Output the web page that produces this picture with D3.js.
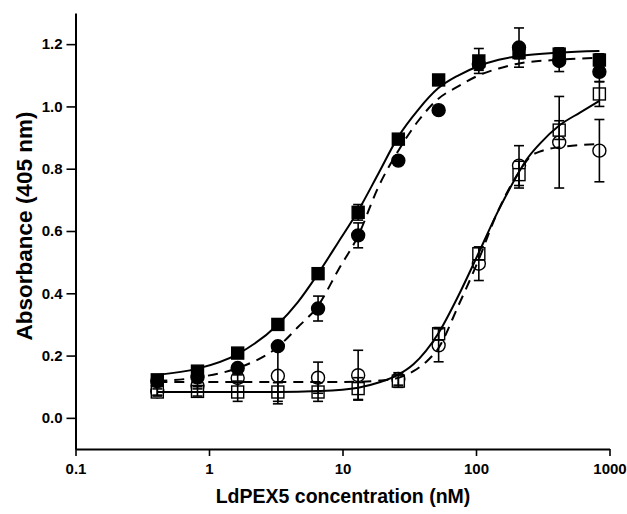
<!DOCTYPE html>
<html>
<head>
<meta charset="utf-8">
<script src="https://cdn.jsdelivr.net/npm/d3@7"></script>
<style>
  body { margin: 0; background: #fff; }
  svg text { font-family: 'Liberation Sans', Arial, sans-serif; font-weight: bold; fill: #000; }
</style>
</head>
<body>
<svg id="chart" width="627" height="514"></svg>
<script>
'use strict';

// LdPEX5 concentrations (nM), two-fold dilution series
var conc = [0.41, 0.82, 1.64, 3.28, 6.56, 13.1, 26.2, 52.5, 105, 210, 420, 840];

// filled squares (solid fit)
var filledSq = [0.122, 0.150, 0.208, 0.300, 0.463, 0.660, 0.895, 1.085, 1.146, 1.173, 1.168, 1.149];
var filledSqErr = [0.005, 0.005, 0.005, 0.01, 0.01, 0.025, 0.01, 0.01, 0.04, 0.02, 0.02, 0.02];
// filled circles (dashed fit)
var filledCi = [0.118, 0.130, 0.160, 0.230, 0.351, 0.586, 0.826, 0.988, 1.136, 1.189, 1.146, 1.111];
var filledCiErr = [0.005, 0.01, 0.01, 0.01, 0.04, 0.04, 0.01, 0.01, 0.02, 0.063, 0.034, 0.032];
// open squares (solid fit)
var openSq = [0.083, 0.085, 0.083, 0.083, 0.083, 0.094, 0.118, 0.270, 0.527, 0.781, 0.924, 1.040];
var openSqErr = [0.01, 0.015, 0.03, 0.03, 0.03, 0.035, 0.02, 0.02, 0.02, 0.043, 0.03, 0.04];
// open circles (dashed fit)
var openCi = [0.085, 0.103, 0.128, 0.135, 0.129, 0.137, 0.125, 0.233, 0.495, 0.810, 0.885, 0.858];
var openCiErr = [0.015, 0.01, 0.01, 0.09, 0.05, 0.08, 0.02, 0.053, 0.054, 0.064, 0.147, 0.10];

// fitted curves
var fitAx = [0.41, 0.82, 1.64, 3.28, 4.6, 6.56, 9.3, 13.1, 18.5, 26.2, 37, 52, 74, 105, 148, 210, 420, 840];
var fitAy = [0.138, 0.158, 0.205, 0.300, 0.370, 0.463, 0.564, 0.665, 0.783, 0.903, 0.990, 1.058, 1.100, 1.130, 1.150, 1.162, 1.173, 1.178];
var fitBx = [0.41, 0.82, 1.64, 3.28, 4.6, 6.56, 9.3, 13.1, 18.5, 26.2, 37, 52, 74, 105, 148, 210, 420, 840];
var fitBy = [0.118, 0.130, 0.160, 0.228, 0.290, 0.360, 0.475, 0.585, 0.740, 0.858, 0.954, 1.024, 1.065, 1.100, 1.122, 1.138, 1.150, 1.156];
var fitCx = [0.41, 0.82, 1.64, 3.28, 6.56, 13.1, 19.2, 26, 34, 52, 73, 104, 143, 209, 240, 300, 418, 605, 840];
var fitCy = [0.083, 0.083, 0.083, 0.083, 0.086, 0.097, 0.115, 0.138, 0.172, 0.270, 0.388, 0.527, 0.655, 0.788, 0.830, 0.880, 0.938, 0.981, 1.018];
var fitDx = [0.41, 1.64, 3.28, 6.56, 13.1, 19, 26, 34, 43.6, 52, 73, 104, 143, 209, 260, 300, 420, 840];
var fitDy = [0.115, 0.115, 0.115, 0.115, 0.116, 0.120, 0.128, 0.150, 0.185, 0.222, 0.356, 0.505, 0.655, 0.788, 0.842, 0.855, 0.869, 0.879];

var yMajor = [0, 0.2, 0.4, 0.6, 0.8, 1.0, 1.2];
var yMinor = [-0.1, 0.1, 0.3, 0.5, 0.7, 0.9, 1.1, 1.3];
var xMajor = [0.1, 1, 10, 100, 1000];

var svg = d3.select('#chart');
var plotLeft = 75.5, plotRight = 609.5, plotTop = 13, plotBottom = 449;

var x = d3.scaleLog().domain([0.1, 1000]).range([plotLeft, plotRight]);
var y = d3.scaleLinear().domain([-0.1, 1.3]).range([plotBottom, plotTop]);

// minor x ticks: 2..9 in every decade
var xMinor = [];
xMajor.slice(0, -1).forEach(function (d) {
  for (var k = 2; k <= 9; k++) xMinor.push(d * k);
});

function zip(xs, ys) {
  return xs.map(function (d, i) { return [d, ys[i]]; });
}

// axes
var gx = svg.append('g').attr('transform', 'translate(0,' + plotBottom + ')');
gx.call(d3.axisBottom(x).tickValues(xMinor).tickSize(4).tickSizeOuter(0).tickFormat(''));
gx.call(d3.axisBottom(x).tickValues(xMajor).tickSize(7).tickSizeOuter(0).tickPadding(7)
  .tickFormat(function (d) { return d < 1 ? d.toFixed(1) : d; }));
gx.selectAll('text').style('font-size', '15px');

var gy = svg.append('g').attr('transform', 'translate(' + plotLeft + ',0)');
gy.call(d3.axisLeft(y).tickValues(yMinor).tickSize(5).tickSizeOuter(0).tickFormat(''));
gy.call(d3.axisLeft(y).tickValues(yMajor).tickSize(9).tickSizeOuter(0).tickPadding(4).tickFormat(d3.format('.1f')));
gy.selectAll('text').style('font-size', '15px');

svg.selectAll('.domain').attr('stroke-width', 2);
svg.selectAll('.tick line').attr('stroke-width', 1.6);

// axis titles
svg.append('text')
  .attr('x', 343).attr('y', 503)
  .attr('text-anchor', 'middle')
  .style('font-size', '19.5px')
  .text('LdPEX5 concentration (nM)');

svg.append('text')
  .attr('transform', 'translate(32,226) rotate(-90)')
  .attr('text-anchor', 'middle')
  .style('font-size', '22.5px')
  .text('Absorbance (405 nm)');

var line = d3.line()
  .x(function (d) { return x(d[0]); })
  .y(function (d) { return y(d[1]); })
  .curve(d3.curveMonotoneX);

var plot = svg.append('g');

function errBars(vals, errs) {
  var g = plot.append('g').attr('stroke', '#000').attr('stroke-width', 1.6);
  conc.forEach(function (c, i) {
    var cx = x(c), hi = y(vals[i] + errs[i]), lo = y(vals[i] - errs[i]);
    g.append('line').attr('x1', cx).attr('x2', cx).attr('y1', hi).attr('y2', lo);
    g.append('line').attr('x1', cx - 5).attr('x2', cx + 5).attr('y1', hi).attr('y2', hi);
    g.append('line').attr('x1', cx - 5).attr('x2', cx + 5).attr('y1', lo).attr('y2', lo);
  });
}

function squares(vals, filled) {
  plot.append('g').selectAll('rect').data(vals).join('rect')
    .attr('x', function (d, i) { return x(conc[i]) - 6; })
    .attr('y', function (d) { return y(d) - 6; })
    .attr('width', 12).attr('height', 12)
    .attr('fill', filled ? '#000' : '#fff')
    .attr('stroke', '#000').attr('stroke-width', 1.4);
}

function circles(vals, filled) {
  plot.append('g').selectAll('circle').data(vals).join('circle')
    .attr('cx', function (d, i) { return x(conc[i]); })
    .attr('cy', function (d) { return y(d); })
    .attr('r', 6.5)
    .attr('fill', filled ? '#000' : '#fff')
    .attr('stroke', '#000').attr('stroke-width', 1.4);
}

// open symbols go under the lines so the curves and bars show through them
circles(openCi, false);
squares(openSq, false);

plot.append('path').datum(zip(fitAx, fitAy)).attr('d', line)
  .attr('fill', 'none').attr('stroke', '#000').attr('stroke-width', 2);
plot.append('path').datum(zip(fitBx, fitBy)).attr('d', line)
  .attr('fill', 'none').attr('stroke', '#000').attr('stroke-width', 2).attr('stroke-dasharray', '10,7');
plot.append('path').datum(zip(fitCx, fitCy)).attr('d', line)
  .attr('fill', 'none').attr('stroke', '#000').attr('stroke-width', 2);
plot.append('path').datum(zip(fitDx, fitDy)).attr('d', line)
  .attr('fill', 'none').attr('stroke', '#000').attr('stroke-width', 2).attr('stroke-dasharray', '10,7');

errBars(openCi, openCiErr);
errBars(openSq, openSqErr);
errBars(filledCi, filledCiErr);
errBars(filledSq, filledSqErr);

circles(filledCi, true);
squares(filledSq, true);
</script>
</body>
</html>
